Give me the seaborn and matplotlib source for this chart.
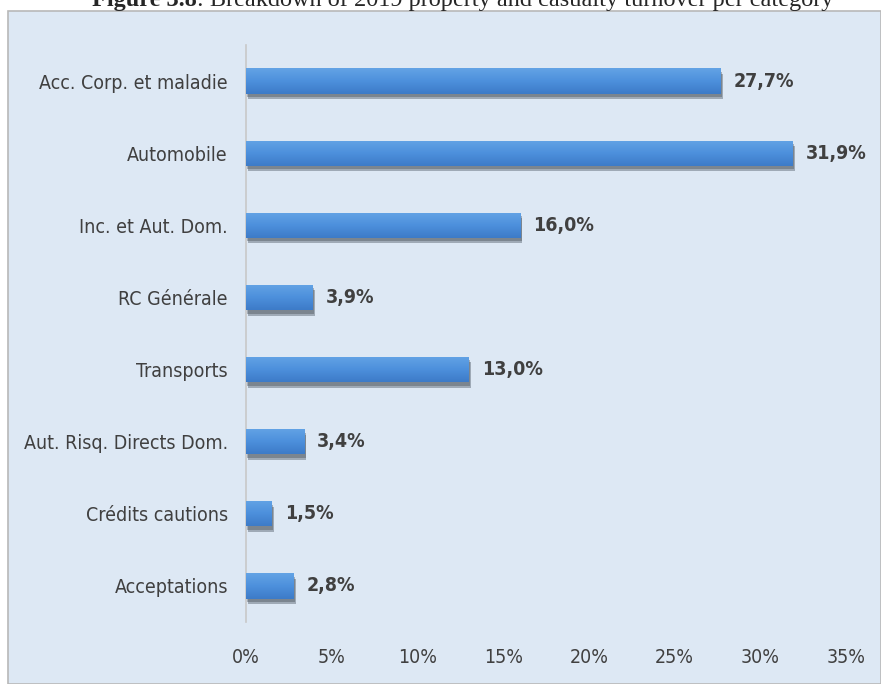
import matplotlib
matplotlib.use("Agg")
import matplotlib.pyplot as plt
import matplotlib.patheffects as pe
from matplotlib.patches import Rectangle
from matplotlib.colors import LinearSegmentedColormap
import numpy as np
import seaborn as sns
import pandas as pd

# données
categories = ["Acc. Corp. et maladie", "Automobile", "Inc. et Aut. Dom.", "RC Générale",
              "Transports", "Aut. Risq. Directs Dom.", "Crédits cautions", "Acceptations"]
values = [27.7, 31.9, 16.0, 3.9, 13.0, 3.4, 1.5, 2.8]
xticks = [0, 5, 10, 15, 20, 25, 30, 35]

df = pd.DataFrame({"cat": categories, "val": values})

sns.set_style("white")
plt.rcParams['font.family'] = ['DejaVu Sans']
plt.rcParams['font.stretch'] = 'condensed'

bg = "#dde8f4"
txt = "#404040"
serif = ["Liberation Serif", "DejaVu Serif"]

fig = plt.figure(figsize=(8.81, 6.84), dpi=100)
fig.patch.set_facecolor("white")

# panneau de fond
fig.patches.append(Rectangle((8 / 881, 0), 1 - 8 / 881, 1 - 11 / 684, transform=fig.transFigure,
                             facecolor=bg, edgecolor="#b8b8b8", linewidth=1.2, zorder=-10))

# titre (coupé en haut, comme dans l'original)
t1 = fig.text(92 / 881, 1 - 6 / 684, "Figure 3.8", ha="left", va="baseline", fontsize=17.5,
              fontweight="bold", family=serif, stretch="normal")
fig.canvas.draw()
bb = t1.get_window_extent()
fig.text(bb.x1 / fig.bbox.width, 1 - 6 / 684,
         ": Breakdown of 2019 property and casualty turnover per category",
         ha="left", va="baseline", fontsize=17.5, family=serif, stretch="normal")

ax = fig.add_axes([246 / 881, 62 / 684, 600 / 881, 577 / 684])
ax.set_facecolor(bg)

sns.barplot(data=df, x="val", y="cat", color="#4a8cd8", width=0.35, ax=ax, zorder=3,
            linewidth=0)

# dégradé + ombre sur les barres
cmap = LinearSegmentedColormap.from_list("bar", ["#63a3e5", "#4d90dc", "#3d7bc8"])
grad = np.linspace(0, 1, 64).reshape(-1, 1)
for p in list(ax.patches):
    p.set_path_effects([pe.SimplePatchShadow(offset=(1.5, -4), shadow_rgbFace="#55606c", alpha=0.45),
                        pe.SimplePatchShadow(offset=(1, -2.5), shadow_rgbFace="#3a4048", alpha=0.35),
                        pe.Normal()])
    x0, y0 = p.get_x(), p.get_y()
    w, h = p.get_width(), p.get_height()
    im = ax.imshow(grad, extent=[x0, x0 + w, y0 + h, y0], aspect="auto", cmap=cmap,
                   origin="upper", zorder=4, interpolation="bilinear")
    im.set_clip_path(p)

for i, v in enumerate(values):
    ax.text(v + 0.75, i, f"{v:.1f}%".replace(".", ","), va="center", ha="left",
            fontsize=14, fontweight="bold", color=txt)

ax.set_xlim(0, 35)
ax.set_ylim(7.5, -0.5)
ax.set_xticks(xticks)
ax.set_xticklabels([f"{t}%" for t in xticks], fontsize=14, color=txt)
ax.tick_params(axis="x", length=0, pad=19)
ax.tick_params(axis="y", length=0, pad=13, labelsize=14, labelcolor=txt)
ax.set_xlabel("")
ax.set_ylabel("")

for s in ["top", "right", "bottom"]:
    ax.spines[s].set_visible(False)
ax.spines["left"].set_color("#c8c8c8")
ax.spines["left"].set_linewidth(1.2)

fig.savefig("out.png", dpi=100)
